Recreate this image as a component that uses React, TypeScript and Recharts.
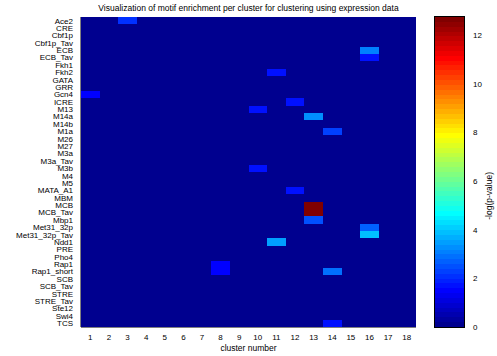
import { ScatterChart, Scatter, ComposedChart, XAxis, YAxis, ReferenceArea } from 'recharts';

const motifs = [
  'Ace2', 'CRE', 'Cbf1p', 'Cbf1p_Tav', 'ECB', 'ECB_Tav', 'Fkh1', 'Fkh2', 'GATA', 'GRR',
  'Gcn4', 'ICRE', 'M13', 'M14a', 'M14b', 'M1a', 'M26', 'M27', 'M3a', 'M3a_Tav',
  'M3b', 'M4', 'M5', 'MATA_A1', 'MBM', 'MCB', 'MCB_Tav', 'Mbp1', 'Met31_32p', 'Met31_32p_Tav',
  'Ndd1', 'PRE', 'Pho4', 'Rap1', 'Rap1_short', 'SCB', 'SCB_Tav', 'STRE', 'STRE_Tav', 'Ste12',
  'Swi4', 'TCS',
];
const clusters = [1, 2, 3, 4, 5, 6, 7, 8, 9, 10, 11, 12, 13, 14, 15, 16, 17, 18];

// non-zero enrichment cells (-log p-value), everything else is 0
const hitMotifs = ['Ace2', 'ECB', 'ECB_Tav', 'Fkh2', 'Gcn4', 'ICRE', 'M13', 'M14a', 'M1a', 'M3b', 'MATA_A1',
  'MCB', 'MCB_Tav', 'Mbp1', 'Met31_32p', 'Met31_32p_Tav', 'Ndd1', 'Rap1', 'Rap1_short', 'Rap1_short', 'TCS'];
const hitClusters = [3, 16, 16, 11, 1, 12, 10, 13, 14, 10, 12, 13, 13, 13, 16, 16, 11, 8, 8, 14, 14];
const hitValues = [2.0, 3.0, 1.7, 1.7, 1.5, 1.7, 1.7, 3.3, 2.3, 1.7, 1.6, 12.75, 12.75, 2.55, 2.7, 3.9, 3.5, 1.5, 1.5, 2.9, 1.7];

const cbTicks = [0, 2, 4, 6, 8, 10, 12];
const VMAX = 12.75;
const NLEV = 64;

const PLOT_W = 335;
const PLOT_H = 310;
const CELL_W = PLOT_W / clusters.length;
const CELL_H = PLOT_H / motifs.length;
const FONT = '"Liberation Sans", Arial, sans-serif';

const clamp = (v: number) => Math.max(0, Math.min(1, v));
const hex = (v: number) => Math.round(clamp(v) * 255).toString(16).padStart(2, '0');
// matlab jet(64)
const jetLevel = (idx: number) => {
  const x = (idx + 1) / NLEV;
  return '#' + hex(1.5 - Math.abs(4 * x - 3)) + hex(1.5 - Math.abs(4 * x - 2)) + hex(1.5 - Math.abs(4 * x - 1));
};
const jet = (v: number) => jetLevel(Math.min(NLEV - 1, Math.floor((v / VMAX) * NLEV)));

const cells = motifs.flatMap((m, r) =>
  clusters.map((c) => {
    let v = 0;
    hitMotifs.forEach((hm, i) => {
      if (hm === m && hitClusters[i] === c) v = hitValues[i];
    });
    return { x: c, y: r, v };
  })
);

const levels = Array.from({ length: NLEV }, (_, i) => i);

const Cell = (props: any) => {
  const { cx, cy, payload } = props;
  return (
    <rect
      x={cx - CELL_W / 2}
      y={cy - CELL_H / 2}
      width={CELL_W + 0.6}
      height={CELL_H + 0.6}
      fill={jet(payload.v)}
      shapeRendering="crispEdges"
    />
  );
};

const tickStyle = { fontSize: 8, fill: '#000', fontFamily: FONT };

export default function App() {
  return (
    <div style={{ position: 'absolute', left: 0, top: 0, width: 497, height: 356, background: '#fff', fontFamily: FONT }}>
      <div style={{ position: 'absolute', left: 81, top: 3, width: PLOT_W, textAlign: 'center', fontSize: 8.5, whiteSpace: 'nowrap' }}>
        Visualization of motif enrichment per cluster for clustering using expression data
      </div>
      <div style={{ position: 'absolute', left: 0, top: 0 }}>
        <ScatterChart width={430} height={356} margin={{ top: 17, right: 14, bottom: 0, left: 0 }}>
          <XAxis
            type="number"
            dataKey="x"
            domain={[0.5, 18.5]}
            ticks={clusters}
            interval={0}
            allowDataOverflow
            height={29}
            tick={tickStyle}
            tickLine={false}
            tickMargin={1}
            axisLine={{ stroke: '#000' }}
            label={{ value: 'cluster number', position: 'insideBottom', offset: 5, fontSize: 8.5, fill: '#000', fontFamily: FONT }}
          />
          <XAxis xAxisId="top" orientation="top" type="number" domain={[0.5, 18.5]} height={0} tick={false} tickLine={false} axisLine={{ stroke: '#000' }} />
          <YAxis
            type="number"
            dataKey="y"
            domain={[-0.5, 41.5]}
            reversed
            ticks={motifs.map((_, i) => i)}
            interval={0}
            allowDataOverflow
            width={81}
            tick={tickStyle}
            tickLine={false}
            tickMargin={2}
            tickFormatter={(i: number) => motifs[i] ?? ''}
            axisLine={{ stroke: '#000' }}
          />
          <YAxis yAxisId="right" orientation="right" type="number" domain={[-0.5, 41.5]} width={0} tick={false} tickLine={false} axisLine={{ stroke: '#000' }} />
          <Scatter data={cells} shape={Cell} isAnimationActive={false} />
        </ScatterChart>
      </div>
      <div style={{ position: 'absolute', left: 435, top: 0 }}>
        <ComposedChart width={62} height={356} margin={{ top: 17, right: 0, bottom: 29, left: 0 }} data={[{ x: 0, y: 0 }, { x: 1, y: VMAX }]}>
          <XAxis type="number" dataKey="x" domain={[0, 1]} hide />
          <YAxis
            type="number"
            dataKey="y"
            orientation="right"
            domain={[0, VMAX]}
            ticks={cbTicks}
            allowDataOverflow
            width={33}
            tick={tickStyle}
            tickLine={false}
            tickMargin={3}
            axisLine={false}
            label={{ value: '-log(p-value)', angle: -90, position: 'insideRight', offset: 8, fontSize: 8.5, fill: '#000', fontFamily: FONT }}
          />
          {levels.map((i) => (
            <ReferenceArea
              key={i}
              y1={(i * VMAX) / NLEV}
              y2={((i + 1) * VMAX) / NLEV + 0.02}
              fill={jetLevel(i)}
              fillOpacity={1}
              stroke="none"
              ifOverflow="hidden"
              shapeRendering="crispEdges"
            />
          ))}
        </ComposedChart>
      </div>
      {/* colorbar frame */}
      <div style={{ position: 'absolute', left: 434, top: 16, width: 29, height: 310, border: '1px solid #000', pointerEvents: 'none' }} />
    </div>
  );
}
